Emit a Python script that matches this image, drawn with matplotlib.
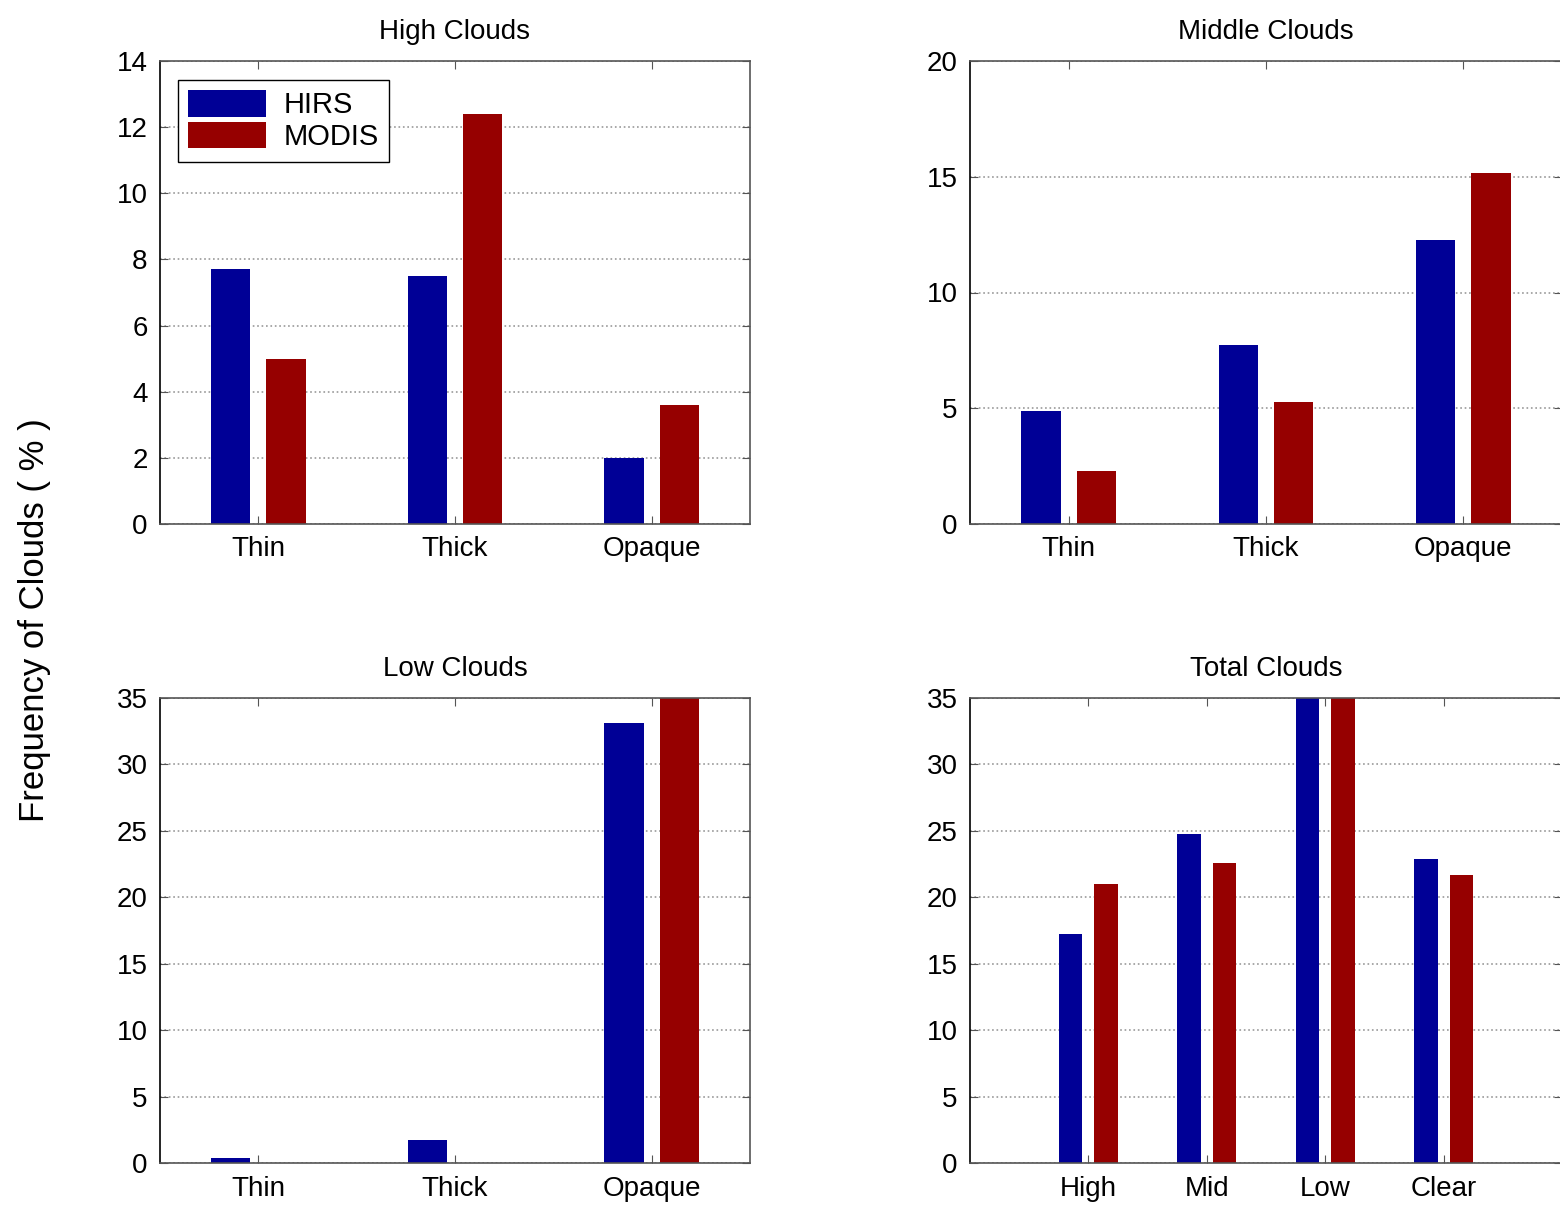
import numpy as np
import matplotlib.pyplot as plt

plt.rcParams['font.family'] = ['Liberation Sans', 'DejaVu Sans']

series = ['HIRS', 'MODIS']
colors = ['#000096', '#960000']

layer_cats = ['Thin', 'Thick', 'Opaque']
total_cats = ['High', 'Mid', 'Low', 'Clear']

high_hirs = [7.7, 7.5, 2.0]
high_modis = [5.0, 12.4, 3.6]
mid_hirs = [4.9, 7.75, 12.25]
mid_modis = [2.3, 5.25, 15.15]
low_hirs = [0.4, 1.7, 33.1]
low_modis = [0.0, 0.0, 36.0]
total_hirs = [17.2, 24.8, 37.0, 22.9]
total_modis = [21.0, 22.6, 38.0, 21.7]

fig = plt.figure(figsize=(15.6, 12.08), dpi=100)
W, H = 1560, 1208

def make_axes(left, top, right, bottom):
    return fig.add_axes([left / W, 1 - bottom / H, (right - left) / W, (bottom - top) / H])

panels = [
    (make_axes(160, 61, 750, 524), 'High Clouds', layer_cats, high_hirs, high_modis,
     (0.5, 3.5), 14, np.arange(0, 15, 2), 0.14, 0.2),
    (make_axes(970, 61, 1562, 524), 'Middle Clouds', layer_cats, mid_hirs, mid_modis,
     (0.5, 3.5), 20, np.arange(0, 21, 5), 0.14, 0.2),
    (make_axes(160, 698, 750, 1163), 'Low Clouds', layer_cats, low_hirs, low_modis,
     (0.5, 3.5), 35, np.arange(0, 36, 5), 0.14, 0.2),
    (make_axes(970, 698, 1562, 1163), 'Total Clouds', total_cats, total_hirs, total_modis,
     (0, 5), 35, np.arange(0, 36, 5), 0.15, 0.2),
]

for ax, title, cats, hirs, modis, xlim, ymax, yticks, off, width in panels:
    x = np.arange(1, len(cats) + 1)
    ax.bar(x - off, hirs, width, color=colors[0], label=series[0], zorder=2)
    ax.bar(x + off, modis, width, color=colors[1], label=series[1], zorder=2)
    ax.set_xlim(*xlim)
    ax.set_ylim(0, ymax)
    ax.set_xticks(x)
    ax.set_xticklabels(cats, fontsize=21)
    ax.set_yticks(yticks)
    ax.set_title(title, fontsize=20, pad=16)
    ax.yaxis.grid(True, linestyle=':', color='#999999', linewidth=1.2, zorder=0)
    ax.tick_params(direction='in', top=True, right=True, length=6, labelsize=20,
                   pad=9, color='#555555')
    ax.tick_params(axis='y', pad=9)
    for sp in ax.spines.values():
        sp.set_linewidth(1.2)
        sp.set_color('#555555')
    ax.spines['left'].set_color('black')
    ax.set_axisbelow(True)

panels[0][0].legend(loc='upper left', bbox_to_anchor=(0.005, 0.99), fontsize=21,
                    fancybox=False, edgecolor='black', framealpha=1,
                    handlelength=2.7, handleheight=1.0, borderpad=0.35,
                    labelspacing=0.1, handletextpad=0.6)

fig.text(35 / W, 1 - 620 / H, 'Frequency of Clouds ( % )', rotation=90,
         ha='center', va='center', fontsize=25)

fig.savefig('out.png', dpi=100)
